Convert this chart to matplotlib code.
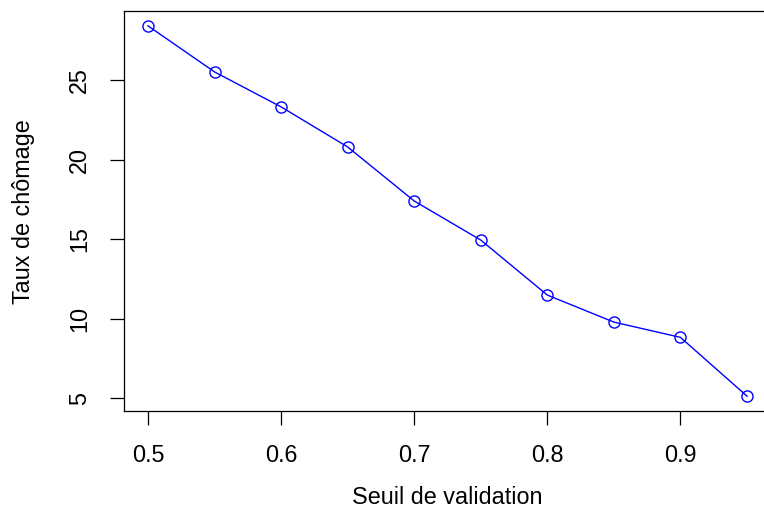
import numpy as np
import matplotlib.pyplot as plt

plt.rcParams['font.family'] = ['Liberation Sans', 'DejaVu Sans']

seuil = [0.5, 0.55, 0.6, 0.65, 0.7, 0.75, 0.8, 0.85, 0.9, 0.95]
taux = [28.42, 25.52, 23.32, 20.80, 17.40, 14.94, 11.48, 9.78, 8.82, 5.12]
xticks = [0.5, 0.6, 0.7, 0.8, 0.9]
yticks = [5, 10, 15, 20, 25]

fig = plt.figure(figsize=(7.64, 5.24), dpi=100)
# R style: box runs past the right edge of the image
ax = fig.add_axes([124 / 764, 1 - 411 / 524, 647 / 764, 400 / 524])

ax.plot(seuil, taux, color='blue', lw=1.0, marker='o', ms=8,
        mfc='none', mec='blue', mew=1.0)

# 4% padding like R's default
xr = max(seuil) - min(seuil)
yr = max(taux) - min(taux)
ax.set_xlim(min(seuil) - 0.04 * xr, max(seuil) + 0.04 * xr)
ax.set_ylim(min(taux) - 0.04 * yr, max(taux) + 0.04 * yr)

ax.set_xticks(xticks)
ax.set_xticklabels([str(v) for v in xticks])
ax.set_yticks(yticks)
ax.set_yticklabels([str(v) for v in yticks], rotation=90, va='center')
ax.tick_params(direction='out', length=10, width=0.9, labelsize=16.8)
ax.tick_params(axis='x', pad=14)
ax.tick_params(axis='y', pad=13.5)
for s in ax.spines.values():
    s.set_linewidth(0.9)

fig.text(447 / 764, 1 - 497 / 524, 'Seuil de validation', ha='center', va='center', fontsize=16.8)
fig.text(24 / 764, 1 - 211.5 / 524, 'Taux de chômage', ha='center', va='center',
         rotation=90, fontsize=16.8)

fig.savefig('out.png', dpi=100)
